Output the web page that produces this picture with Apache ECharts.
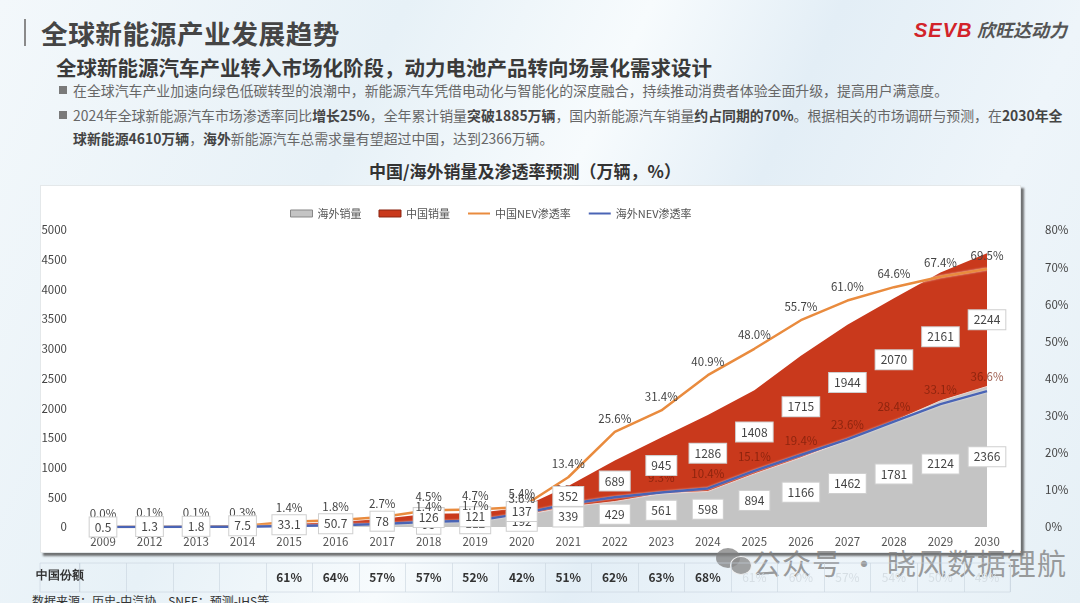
<!DOCTYPE html>
<html>
<head>
<meta charset="utf-8">
<script src="https://cdn.jsdelivr.net/npm/echarts@6/dist/echarts.min.js"></script>
<style>
  html, body { margin: 0; padding: 0; }
  body { width: 1080px; height: 603px; overflow: hidden; position: relative;
    font-family: "Noto Sans CJK SC", "Noto Sans", sans-serif;
    background: linear-gradient(115deg, #f3f8fb 0%, #e7f1f7 30%, #f7fbfd 48%, #e3eef6 62%, #eef5fa 80%, #e6f0f6 100%); }
  .bar { position: absolute; left: 24px; top: 19px; width: 2px; height: 27px; background: #8a8a8a; }
  .title { position: absolute; left: 41px; top: 13px; font-size: 26.7px; font-weight: bold; color: #454545; letter-spacing: 0.5px; }
  .logo { position: absolute; left: 914px; top: 14px; font-size: 20px; font-style: italic; }
  .logo .en { color: #d2232a; font-weight: 900; font-family: "Liberation Sans", sans-serif; letter-spacing: 1px; }
  .logo .cn { color: #555; font-weight: bold; font-size: 18px; }
  .sub { position: absolute; left: 56px; top: 52px; font-size: 20.5px; font-weight: bold; color: #3a3a3a; }
  .bullet { position: absolute; left: 73px; width: 1000px; font-size: 13.9px; line-height: 23px; color: #676767; }
  .bullet::before { content: ""; position: absolute; left: -14px; top: 7px; width: 8px; height: 8px; background: #7a7a7a; }
  .bullet b { color: #444; }
  .ctitle { position: absolute; left: 0; width: 1050px; top: 158px; text-align: center; font-size: 17px; font-weight: bold; color: #333; }
  .panel { position: absolute; left: 40px; top: 185px; width: 979px; height: 366px; background: #fff;
    border: 1px solid #e4e8ea; box-shadow: 3px 3px 2px rgba(70,70,70,0.75); }
  .src { position: absolute; left: 32px; top: 592px; font-size: 12px; color: #333; }
  .wm { position: absolute; left: 752px; top: 541px; font-size: 29px; color: rgba(125,125,125,0.75); letter-spacing: 1px; }
  .wx1 { position: absolute; left: 716px; top: 548px; width: 24px; height: 20px; border-radius: 50%; background: rgba(125,125,125,0.75); }
  .wx2 { position: absolute; left: 730px; top: 556px; width: 20px; height: 17px; border-radius: 50%; background: rgba(140,140,140,0.8); border: 1px solid #eee; }
  #chart { position: absolute; left: 0; top: 0; width: 1080px; height: 603px; }
</style>
</head>
<body>
<div class="bar"></div>
<div class="title">全球新能源产业发展趋势</div>
<div class="logo"><span class="en">SEVB</span> <span class="cn">欣旺达动力</span></div>
<div class="sub">全球新能源汽车产业转入市场化阶段，动力电池产品转向场景化需求设计</div>
<div class="bullet" style="top:79px;">在全球汽车产业加速向绿色低碳转型的浪潮中，新能源汽车凭借电动化与智能化的深度融合，持续推动消费者体验全面升级，提高用户满意度。</div>
<div class="bullet" style="top:104px;">2024年全球新能源汽车市场渗透率同比<b>增长25%</b>，全年累计销量<b>突破1885万辆</b>，国内新能源汽车销量<b>约占同期的70%</b>。根据相关的市场调研与预测，在<b>2030年全球新能源4610万辆</b>，<b>海外</b>新能源汽车总需求量有望超过中国，达到2366万辆。</div>
<div class="ctitle">中国/海外销量及渗透率预测（万辆，%）</div>
<div class="panel"></div>
<div class="src">数据来源：历史-中汽协，SNEF；预测-IHS等</div>
<div class="wx1"></div><div class="wx2"></div>
<div class="wm">公众号 · 晓风数据锂航</div>
<div id="chart"></div>
<script>
var years = ['2009', '2012', '2013', '2014', '2015', '2016', '2017', '2018', '2019', '2020',
    '2021', '2022', '2023', '2024', '2025', '2026', '2027', '2028', '2029', '2030'];
// 海外销量（万辆），早年数值为估计
var overseasSales = [0.3, 6, 10, 16, 21, 29, 59, 95, 112, 192,
    339, 429, 561, 598, 894, 1166, 1462, 1781, 2124, 2366];
// 中国销量（万辆）
var chinaSales = [0.5, 1.3, 1.8, 7.5, 33.1, 50.7, 78, 126, 121, 137,
    352, 689, 945, 1286, 1408, 1715, 1944, 2070, 2161, 2244];
// 中国NEV渗透率（%）
var chinaRate = [0.0, 0.1, 0.1, 0.3, 1.4, 1.8, 2.7, 4.5, 4.7, 5.4,
    13.4, 25.6, 31.4, 40.9, 48.0, 55.7, 61.0, 64.6, 67.4, 69.5];
// 海外NEV渗透率（%），2018年前为估计
var overseasRate = [0.0, 0.0, 0.1, 0.1, 0.3, 0.5, 0.8, 1.4, 1.7, 3.6,
    6.2, 8.0, 9.3, 10.4, 15.1, 19.4, 23.6, 28.4, 33.1, 36.6];
// 中国份额（%）
var chinaShare = [null, null, null, null, 61, 64, 57, 57, 52, 42,
    51, 62, 63, 68, 61, 60, 57, 54, 50, 49];
var leftTicks = { min: 0, max: 5000, interval: 500 };
var rightTicks = { min: 0, max: 80, interval: 10 };

var boxLabel = {
    show: true,
    position: 'inside',
    backgroundColor: '#fff',
    borderColor: '#cfcfcf',
    borderWidth: 1,
    padding: [4, 5, 3, 5],
    fontSize: 12,
    color: '#444',
    opacity: 1
};

var overseasMid = overseasSales.map(function (v, i) {
    return { value: v / 2, label: { show: i >= 7 } };
});
var chinaMid = chinaSales.map(function (v, i) {
    return { value: overseasSales[i] + v / 2 };
});
// 2018-2020 的标签在白底上，2021 起落在红色面积内
var rateLabelsEarly = overseasRate.map(function (v, i) {
    return (i >= 7 && i < 10) ? v : '-';
});
var rateLabelsLate = overseasRate.map(function (v, i) {
    return i >= 10 ? v : '-';
});
var shareData = chinaShare.map(function (v, i) {
    return {
        value: v == null ? '-' : 0.5,
        label: { color: i >= 14 ? '#d6dee4' : '#333', fontWeight: i >= 14 ? 'normal' : 'bold' }
    };
});

var hiddenDot = { opacity: 0 };
var pct = function (p) { return p.value.toFixed(1) + '%'; };

var chart = echarts.init(document.getElementById('chart'), null, { renderer: 'canvas' });
var option = {
    backgroundColor: 'transparent',
    textStyle: { fontFamily: '"Noto Sans CJK SC", "Noto Sans", sans-serif' },
    animation: false,
    legend: {
        left: 285,
        top: 203,
        itemWidth: 22,
        itemHeight: 7,
        itemGap: 17,
        textStyle: { fontSize: 11, color: '#555' },
        data: [
            { name: '海外销量', icon: 'rect', itemStyle: { borderColor: '#888', borderWidth: 1 } },
            { name: '中国销量', icon: 'rect', itemStyle: { borderColor: '#8a2512', borderWidth: 1 } },
            { name: '中国NEV渗透率', itemStyle: hiddenDot },
            { name: '海外NEV渗透率', itemStyle: hiddenDot }
        ]
    },
    grid: [
        { left: 103, right: 93, top: 230, bottom: 76 },
        { left: 79.7, right: 69.7, top: 563, height: 29, show: true, borderColor: 'rgba(200,212,222,0.6)', borderWidth: 1 }
    ],
    xAxis: [
        {
            type: 'category',
            data: years,
            boundaryGap: false,
            axisLine: { show: false },
            axisTick: { show: false },
            axisLabel: { fontSize: 11.5, color: '#555', margin: 9 },
            splitLine: { show: false }
        },
        {
            type: 'category',
            gridIndex: 1,
            data: years,
            boundaryGap: true,
            axisLine: { show: false },
            axisTick: { show: false },
            axisLabel: { show: false },
            splitLine: { show: true, lineStyle: { color: 'rgba(200,212,222,0.6)' } }
        }
    ],
    yAxis: [
        {
            type: 'value',
            min: leftTicks.min,
            max: leftTicks.max,
            interval: leftTicks.interval,
            axisLine: { show: false },
            axisTick: { show: false },
            splitLine: { show: false },
            axisLabel: { fontSize: 11.5, color: '#444', margin: 36, formatter: function (v) { return String(v); } }
        },
        {
            type: 'value',
            min: rightTicks.min,
            max: rightTicks.max,
            interval: rightTicks.interval,
            axisLine: { show: false },
            axisTick: { show: false },
            splitLine: { show: false },
            axisLabel: { fontSize: 11.5, color: '#444', margin: 58, formatter: '{value}%' }
        },
        {
            type: 'value',
            gridIndex: 1,
            min: 0,
            max: 1,
            show: false
        }
    ],
    series: [
        {
            name: '海外销量',
            type: 'line',
            stack: 'sales',
            data: overseasSales,
            symbol: 'none',
            itemStyle: { color: '#c4c4c4' },
            lineStyle: { width: 1, color: '#ead6d2' },
            areaStyle: { color: '#c4c4c4', opacity: 1 },
            z: 1
        },
        {
            name: '中国销量',
            type: 'line',
            stack: 'sales',
            data: chinaSales,
            symbol: 'none',
            itemStyle: { color: '#c9391c' },
            lineStyle: { width: 0 },
            areaStyle: { color: '#c9391c', opacity: 1 },
            z: 1
        },
        {
            name: '中国NEV渗透率',
            type: 'line',
            yAxisIndex: 1,
            data: chinaRate,
            symbol: 'circle',
            symbolSize: 0,
            itemStyle: { color: '#e98b3e' },
            lineStyle: { width: 2.5, color: '#e98b3e', shadowColor: 'rgba(255,255,255,0.8)', shadowBlur: 2 },
            label: {
                show: true,
                position: 'top',
                distance: 8,
                fontSize: 11.5,
                color: '#444',
                formatter: pct
            },
            z: 3
        },
        {
            name: '海外NEV渗透率',
            type: 'line',
            yAxisIndex: 1,
            data: overseasRate,
            symbol: 'circle',
            symbolSize: 0,
            itemStyle: { color: '#4a64b5' },
            lineStyle: { width: 2.5, color: '#4a64b5', shadowColor: 'rgba(255,255,255,0.7)', shadowBlur: 2 },
            z: 3
        },
        {
            name: 'overseasLabel',
            type: 'scatter',
            data: overseasMid,
            symbolSize: 0,
            silent: true,
            itemStyle: { opacity: 1 },
            label: Object.assign({}, boxLabel, {
                formatter: function (p) { return overseasSales[p.dataIndex]; }
            }),
            z: 4
        },
        {
            name: 'rateLabelLate',
            type: 'scatter',
            yAxisIndex: 1,
            data: rateLabelsLate,
            symbolSize: 0,
            silent: true,
            itemStyle: { opacity: 1 },
            label: {
                show: true,
                position: 'top',
                distance: 9,
                fontSize: 11.5,
                color: 'rgba(120,30,10,0.75)',
                formatter: pct
            },
            z: 5
        },
        {
            name: 'chinaLabel',
            type: 'scatter',
            data: chinaMid,
            symbolSize: 0,
            silent: true,
            itemStyle: { opacity: 1 },
            label: Object.assign({}, boxLabel, {
                formatter: function (p) { return chinaSales[p.dataIndex]; }
            }),
            z: 6
        },
        {
            name: 'rateLabelEarly',
            type: 'scatter',
            yAxisIndex: 1,
            data: rateLabelsEarly,
            symbolSize: 0,
            silent: true,
            itemStyle: { opacity: 1 },
            label: {
                show: true,
                position: 'top',
                distance: 9,
                fontSize: 11.5,
                color: '#444',
                formatter: pct
            },
            z: 7
        },
        {
            name: 'share',
            type: 'scatter',
            xAxisIndex: 1,
            yAxisIndex: 2,
            data: shareData,
            symbolSize: 0,
            silent: true,
            itemStyle: { opacity: 1 },
            label: {
                show: true,
                position: 'inside',
                fontSize: 12,
                formatter: function (p) { return chinaShare[p.dataIndex] + '%'; }
            }
        }
    ],
    graphic: [
        {
            type: 'rect',
            shape: { x: 40, y: 563, width: 39.7, height: 29 },
            style: { fill: 'none', stroke: 'rgba(200,212,222,0.6)', lineWidth: 1 }
        },
        {
            type: 'text',
            left: 36,
            top: 570,
            style: { text: '中国份额', fontSize: 12, fontWeight: 'bold', fill: '#333' }
        }
    ]
};
chart.setOption(option);
</script>
</body>
</html>
